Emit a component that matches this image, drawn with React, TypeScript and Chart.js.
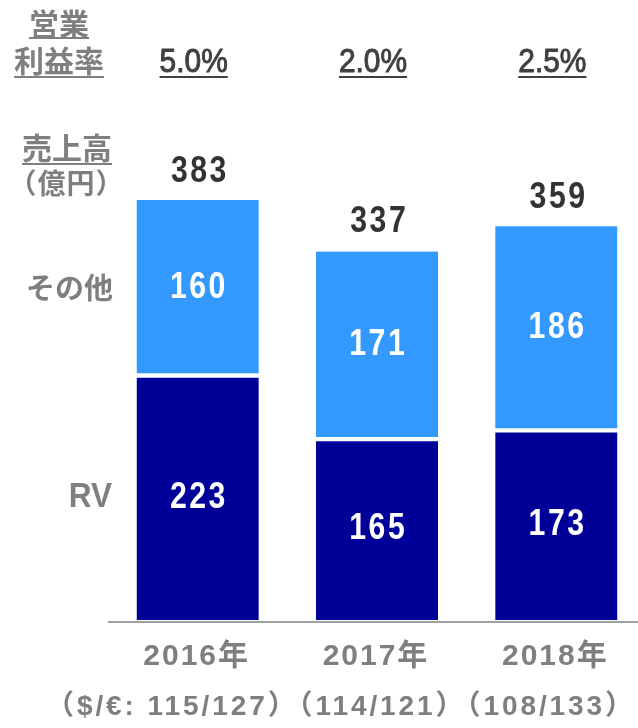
import React, { useEffect, useRef } from "react";
import { Chart, registerables } from "chart.js";

Chart.register(...registerables);

const years = ["2016年", "2017年", "2018年"];
const rvSales = [223, 165, 173];
const otherSales = [160, 171, 186];
const totalSales = [383, 337, 359];
const opMargins = ["5.0%", "2.0%", "2.5%"];
const fxNote = "（$/€: 115/127）（114/121）（108/133）";

const DARK = "#000099";
const LIGHT = "#3399FF";
const GRAY = "#7f7f7f";
const DARKTEXT = "#404040";
const CJK = '"Noto Sans CJK JP"';
const NUM = '"Liberation Sans", Arial';

type TextOpts = {
  align?: CanvasTextAlign;
  underlineY?: number;
  scaleX?: number;
  spacing?: number;
  stroke?: number;
  fitWidth?: number;
};

function drawText(
  ctx: CanvasRenderingContext2D,
  str: string,
  x: number,
  y: number,
  font: string,
  color: string,
  o: TextOpts = {}
) {
  const align = o.align || "center";
  const sx = o.scaleX || 1;
  ctx.save();
  ctx.font = font;
  (ctx as any).letterSpacing = "0px";
  let spacing = o.spacing || 0;
  if (o.fitWidth) {
    const w0 = ctx.measureText(str).width;
    const n = Array.from(str).length;
    spacing = (o.fitWidth - w0) / n;
  }
  (ctx as any).letterSpacing = spacing + "px";
  let w = ctx.measureText(str).width * sx;
  if (spacing) w -= spacing * sx; // trailing spacing
  let x0 = x;
  if (align === "center") x0 = x - w / 2;
  else if (align === "right" || align === "end") x0 = x - w;
  ctx.fillStyle = color;
  ctx.strokeStyle = color;
  ctx.textAlign = "left";
  ctx.textBaseline = "middle";
  ctx.translate(x0, y);
  ctx.scale(sx, 1);
  ctx.fillText(str, 0, 0);
  if (o.stroke) {
    ctx.lineWidth = o.stroke;
    ctx.strokeText(str, 0, 0);
  }
  ctx.setTransform(1, 0, 0, 1, 0, 0);
  if (o.underlineY !== undefined) {
    ctx.fillRect(x0, o.underlineY - 1, w, 2);
  }
  ctx.restore();
}

const labelsPlugin = {
  id: "labelsPlugin",
  afterDraw(chart: any) {
    const ctx: CanvasRenderingContext2D = chart.ctx;
    const xs = chart.scales.x;
    const ys = chart.scales.y;
    const area = chart.chartArea;

    // axis line
    ctx.save();
    ctx.fillStyle = "#a0a0a0";
    ctx.fillRect(area.left, area.bottom + 1, area.right - area.left, 2);
    ctx.restore();

    // left header labels
    drawText(ctx, "営業", 59, 24, `bold 30px ${CJK}`, GRAY, { underlineY: 38 });
    drawText(ctx, "利益率", 59, 61, `bold 30px ${CJK}`, GRAY, { underlineY: 77 });
    drawText(ctx, "売上高", 67, 148, `bold 30px ${CJK}`, GRAY, { underlineY: 164 });
    drawText(ctx, "（億円）", 66, 183, `bold 28px ${CJK}`, GRAY, { spacing: 1 });

    // series labels on the left, aligned with first stack's segments
    const rvMid = (ys.getPixelForValue(0) + ys.getPixelForValue(rvSales[0])) / 2;
    const otMid =
      (ys.getPixelForValue(rvSales[0]) + ys.getPixelForValue(rvSales[0] + otherSales[0])) / 2;
    drawText(ctx, "その他", 113, otMid, `bold 29px ${CJK}`, GRAY, { align: "right" });
    drawText(ctx, "RV", 112, rvMid, `bold 35px ${NUM}`, GRAY, { align: "right", scaleX: 0.9 });

    const numFont = `bold 36px ${NUM}`;
    const numOpts = { scaleX: 0.84, spacing: 3 };
    years.forEach((yr, i) => {
      const cx = xs.getPixelForValue(i);
      // margins
      drawText(ctx, opMargins[i], cx - 4, 63, `34px ${NUM}`, DARKTEXT, {
        underlineY: 77,
        scaleX: 0.88,
        stroke: 1,
      });
      // totals
      drawText(ctx, String(totalSales[i]), cx + 1, ys.getPixelForValue(totalSales[i]) - 28, numFont, "#333333", numOpts);
      // segment values
      const y0 = ys.getPixelForValue(0);
      const y1 = ys.getPixelForValue(rvSales[i]);
      const y2 = ys.getPixelForValue(rvSales[i] + otherSales[i]);
      drawText(ctx, String(rvSales[i]), cx, (y0 + y1) / 2, numFont, "#ffffff", numOpts);
      drawText(ctx, String(otherSales[i]), cx, (y1 + y2) / 2, numFont, "#ffffff", numOpts);
      // year labels
      drawText(ctx, yr, cx - 2, 657, `bold 30px ${NUM}, ${CJK}`, GRAY, { spacing: 2 });
    });

    drawText(ctx, fxNote, 46, 707, `bold 28px ${NUM}, ${CJK}`, GRAY, { align: "left", fitWidth: 590 });
  },
};

export default function App() {
  const ref = useRef<HTMLCanvasElement | null>(null);
  useEffect(() => {
    if (!ref.current) return;
    const chart = new Chart(ref.current, {
      type: "bar",
      data: {
        labels: years,
        datasets: [
          {
            label: "RV",
            data: rvSales,
            backgroundColor: DARK,
            borderColor: "#ffffff",
            borderWidth: { top: 2.5, bottom: 0, left: 0, right: 0 },
            borderSkipped: false,
            barThickness: 122,
          },
          {
            label: "その他",
            data: otherSales,
            backgroundColor: LIGHT,
            borderColor: "#ffffff",
            borderWidth: { top: 0, bottom: 2.5, left: 0, right: 0 },
            borderSkipped: false,
            barThickness: 122,
          },
        ],
      },
      options: {
        responsive: false,
        animation: false,
        events: [],
        layout: { padding: { left: 108, right: 0, top: 181.4, bottom: 108 } },
        plugins: { legend: { display: false }, tooltip: { enabled: false } },
        scales: {
          x: { stacked: true, display: false },
          y: { stacked: true, display: false, min: 0, max: 400 },
        },
      },
      plugins: [labelsPlugin],
    });
    return () => chart.destroy();
  }, []);
  return (
    <div style={{ position: "absolute", left: 0, top: 0, width: 638, height: 728, overflow: "hidden", background: "#fff" }}>
      <canvas ref={ref} width={646} height={728} style={{ width: 646, height: 728, display: "block" }} />
    </div>
  );
}
